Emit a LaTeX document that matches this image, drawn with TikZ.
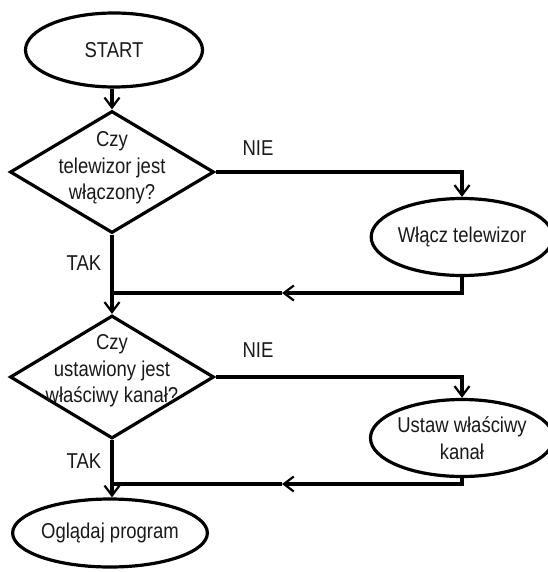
\documentclass[tikz,border=0pt]{standalone}
\usepackage{fontspec}
\setmainfont{Liberation Sans}[FakeStretch=0.86]
\usetikzlibrary{shapes.geometric,arrows.meta}
\begin{document}
\begin{tikzpicture}[x=1pt,y=-1pt,
  line width=3.2pt,
  every node/.style={font=\fontsize{21.5}{26.5}\selectfont, text=black!90},
  term/.style={draw, ellipse, inner sep=0pt, align=center},
  decision/.style={draw, diamond, inner sep=0pt},
  lbl/.style={align=center},
  arr/.style={-{Straight Barb[length=10pt,width=15pt,line width=2.2pt]}},
]
\useasboundingbox (0,0) rectangle (547,572);
\node[term, minimum width=177pt, minimum height=74pt] (start) at (114,50) {START};
\node[decision, minimum width=204pt, minimum height=122pt] (d1) at (112,172) {};
\node[lbl] (d1t) at (112,168) {Czy\\telewizor jest\\włączony?};
\node[term, minimum width=170pt, minimum height=77pt] (w1) at (462,237) {Włącz telewizor};
\node[decision, minimum width=204pt, minimum height=123pt] (d2) at (112,377) {};
\node[lbl] (d2t) at (112,371) {Czy\\ustawiony jest\\właściwy kanał?};
\node[term, minimum width=170pt, minimum height=77pt, align=center] (w2) at (462,438) {Ustaw właściwy\\kanał};
\node[term, minimum width=190pt, minimum height=68pt] (end) at (110,533) {Oglądaj program};

\node (nie1) at (258,148) {NIE};
\node (nie2) at (258,350) {NIE};
\node (tak1) at (84,263) {TAK};
\node (tak2) at (84,461) {TAK};

\coordinate (j1) at (113,293);
\coordinate (m1) at (282,293);
\coordinate (j2) at (113,484);
\coordinate (m2) at (282,484);

\draw[arr] (start.south -| d1.north) -- (d1.north);
\draw[arr] (d1.east) -| (w1.north);
\draw[arr] (w1.south) |- (m1);
\draw (m1) -- (j1);
\draw[arr] (d1.south) -- (d2.north);
\draw[arr] (d2.east) -| (w2.north);
\draw[arr] (w2.south) |- (m2);
\draw (m2) -- (j2);
\draw[arr] (d2.south) -- (d2.south |- end.north);
\end{tikzpicture}
\end{document}
